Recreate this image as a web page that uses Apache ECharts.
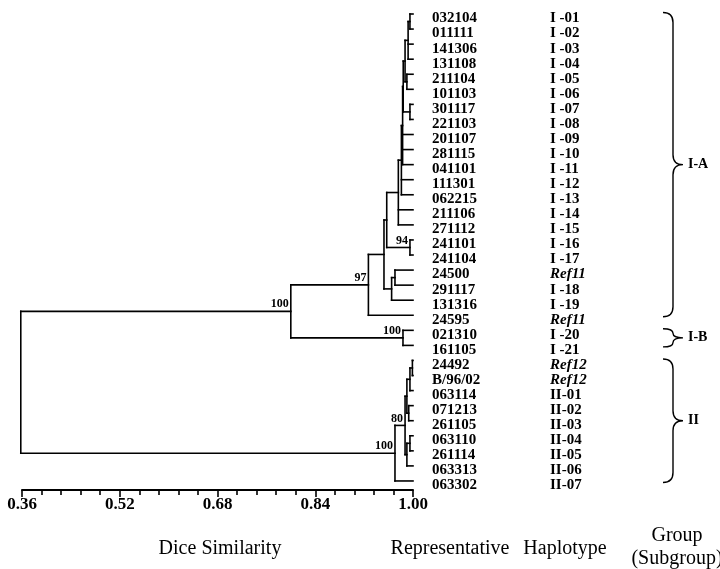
<!DOCTYPE html>
<html><head><meta charset="utf-8">
<script src="https://cdn.jsdelivr.net/npm/echarts@6/dist/echarts.min.js"></script>
<style>html,body{margin:0;padding:0;background:#fff}#c{width:720px;height:569px}</style>
</head><body><div id="c"></div>
<script>
// ---- data ----
const representatives = ['032104','011111','141306','131108','211104','101103','301117','221103','201107','281115','041101','111301','062215','211106','271112','241101','241104','24500','291117','131316','24595','021310','161105','24492','B/96/02','063114','071213','261105','063110','261114','063313','063302'];
const haplotypes = ['I -01','I -02','I -03','I -04','I -05','I -06','I -07','I -08','I -09','I -10','I -11','I -12','I -13','I -14','I -15','I -16','I -17','Ref11','I -18','I -19','Ref11','I -20','I -21','Ref12','Ref12','II-01','II-02','II-03','II-04','II-05','II-06','II-07'];
// merges: numbers = leaf index, 'M#' = earlier merge
const mergeChildren = [
  [0,1], ['M0',2,3], [4,5], ['M1','M2'], [6,7], ['M3','M4'], ['M5',8,9,10], ['M6',11,12], ['M7',13,14],
  [15,16], ['M8','M9'], [17,18], ['M11',19], ['M10','M12'], ['M13',20], [21,22], ['M14','M15'],
  [23,24], ['M17',25], [26,27], ['M18','M19'], [28,29], ['M21',30], ['M20','M22'], ['M23',31],
  ['M16','M24']
];
const mergeSimilarity = [
  0.995, 0.992, 0.990, 0.987, 0.995, 0.984, 0.983, 0.981, 0.976,
  0.995, 0.957, 0.9705, 0.965, 0.9525, 0.927, 0.9836, 0.800,
  0.999, 0.995, 0.993, 0.990, 0.995, 0.990, 0.987, 0.9705,
  0.358
];
const bootstrapNodes = [9, 14, 15, 16, 23, 24];
const bootstrapValues = [94, 97, 100, 100, 80, 100];
const axisTicks = [0.36, 0.52, 0.68, 0.84, 1.00];
const groupNames = ['I-A', 'I-B', 'II'];
const groupFirstLeaf = [0, 21, 23];
const groupLastLeaf = [20, 22, 31];

// ---- build ----
const AXIS_MIN = axisTicks[0];
const AXIS_STEP = +(axisTicks[1] - axisTicks[0]).toFixed(4);
const AXIS_SPAN = +(axisTicks[axisTicks.length - 1] - AXIS_MIN).toFixed(4);
const FONT = '"Liberation Serif", "Times New Roman", serif';

const nodeS = {}, nodeY = {};
representatives.forEach((_, i) => { nodeS[i] = 1.0; nodeY[i] = i; });
const segments = [];
mergeChildren.forEach((ch, m) => {
  const id = 'M' + m, s = mergeSimilarity[m];
  const ys = ch.map(c => nodeY[c]);
  const lo = Math.min(...ys), hi = Math.max(...ys);
  nodeS[id] = s; nodeY[id] = (lo + hi) / 2;
  segments.push([s, lo, s, hi]);
  ch.forEach(c => segments.push([s, nodeY[c], nodeS[c], nodeY[c]]));
});

const chart = echarts.init(document.getElementById('c'), null, {renderer: 'canvas'});
chart.setOption({
  animation: false,
  backgroundColor: '#fff',
  grid: {left: 22, width: 391, top: 14, height: 476},
  xAxis: {
    type: 'value', position: 'bottom', min: 0, max: AXIS_SPAN, interval: AXIS_STEP,
    axisLine: {show: true, onZero: false, lineStyle: {color: '#000', width: 2}},
    axisTick: {show: true, length: 7, lineStyle: {color: '#000', width: 1.6}},
    minorTick: {show: true, splitNumber: 5, length: 5, lineStyle: {color: '#000', width: 1.6}},
    splitLine: {show: false},
    axisLabel: {color: '#000', fontFamily: FONT, fontWeight: 'bold', fontSize: 17, margin: 6,
      formatter: v => (v + AXIS_MIN).toFixed(2)}
  },
  yAxis: {type: 'value', min: 0, max: 31.6, inverse: true, show: false},
  graphic: [
    {type: 'text', x: 220, y: 549, style: {text: 'Dice Similarity', font: '20px ' + FONT, fill: '#000', align: 'center', verticalAlign: 'middle'}},
    {type: 'text', x: 450, y: 549, style: {text: 'Representative', font: '20px ' + FONT, fill: '#000', align: 'center', verticalAlign: 'middle'}},
    {type: 'text', x: 565, y: 549, style: {text: 'Haplotype', font: '20px ' + FONT, fill: '#000', align: 'center', verticalAlign: 'middle'}},
    {type: 'text', x: 677, y: 536, style: {text: 'Group', font: '20px ' + FONT, fill: '#000', align: 'center', verticalAlign: 'middle'}},
    {type: 'text', x: 677, y: 559, style: {text: '(Subgroup)', font: '20px ' + FONT, fill: '#000', align: 'center', verticalAlign: 'middle'}}
  ],
  series: [
    {
      type: 'custom', coordinateSystem: 'cartesian2d', silent: true, clip: false,
      data: segments.map(d => [d[0] - AXIS_MIN, d[1], d[2] - AXIS_MIN, d[3]]),
      encode: {x: [0, 2], y: [1, 3]},
      renderItem: (p, api) => {
        const a = api.coord([api.value(0), api.value(1)]);
        const b = api.coord([api.value(2), api.value(3)]);
        return {type: 'line', shape: {x1: a[0], y1: a[1], x2: b[0], y2: b[1]},
          style: {stroke: '#000', lineWidth: 1.6, lineCap: 'square'}};
      }
    },
    {
      type: 'custom', coordinateSystem: 'cartesian2d', silent: true, clip: false,
      data: representatives.map((r, i) => [1 - AXIS_MIN, i]),
      encode: {x: 0, y: 1},
      renderItem: (p, api) => {
        const i = p.dataIndex;
        const c = api.coord([api.value(0), api.value(1)]);
        const hap = haplotypes[i];
        const ital = hap.indexOf('Ref') === 0;
        return {type: 'group', children: [
          {type: 'text', x: c[0] + 19, y: c[1] + 4.5, style: {text: representatives[i], font: 'bold 15px ' + FONT, fill: '#000', align: 'left', verticalAlign: 'middle'}},
          {type: 'text', x: c[0] + 137, y: c[1] + 4.5, style: {text: hap, font: (ital ? 'italic ' : '') + 'bold 15px ' + FONT, fill: '#000', align: 'left', verticalAlign: 'middle'}}
        ]};
      }
    },
    {
      type: 'custom', coordinateSystem: 'cartesian2d', silent: true, clip: false,
      data: bootstrapNodes.map(m => [nodeS['M' + m] - AXIS_MIN, nodeY['M' + m]]),
      encode: {x: 0, y: 1},
      renderItem: (p, api) => {
        const c = api.coord([api.value(0), api.value(1)]);
        return {type: 'text', x: c[0] - 2, y: c[1] - 1,
          style: {text: String(bootstrapValues[p.dataIndex]), font: 'bold 12px ' + FONT, fill: '#000', align: 'right', verticalAlign: 'bottom'}};
      }
    },
    {
      type: 'custom', coordinateSystem: 'cartesian2d', silent: true, clip: false,
      data: groupNames.map((g, k) => [1 - AXIS_MIN, groupFirstLeaf[k] - 0.1, groupLastLeaf[k] + 0.1]),
      encode: {x: 0, y: [1, 2]},
      renderItem: (p, api) => {
        const a = api.coord([api.value(0), api.value(1)]);
        const b = api.coord([api.value(0), api.value(2)]);
        const xL = a[0] + 250, xS = a[0] + 260, xT = a[0] + 270;
        const y0 = a[1], y1 = b[1], ym = (y0 + y1) / 2;
        const r = Math.min(10, (y1 - y0) / 4);
        const d = 'M' + xL + ' ' + y0 + ' Q' + xS + ' ' + y0 + ' ' + xS + ' ' + (y0 + r) +
          ' L' + xS + ' ' + (ym - r) + ' Q' + xS + ' ' + ym + ' ' + xT + ' ' + ym +
          ' Q' + xS + ' ' + ym + ' ' + xS + ' ' + (ym + r) +
          ' L' + xS + ' ' + (y1 - r) + ' Q' + xS + ' ' + y1 + ' ' + xL + ' ' + y1;
        return {type: 'group', children: [
          {type: 'path', shape: {pathData: d}, style: {stroke: '#000', fill: null, lineWidth: 1.4}},
          {type: 'text', x: xT + 5, y: ym, style: {text: groupNames[p.dataIndex], font: 'bold 14px ' + FONT, fill: '#000', align: 'left', verticalAlign: 'middle'}}
        ]};
      }
    }
  ]
});
</script></body></html>
